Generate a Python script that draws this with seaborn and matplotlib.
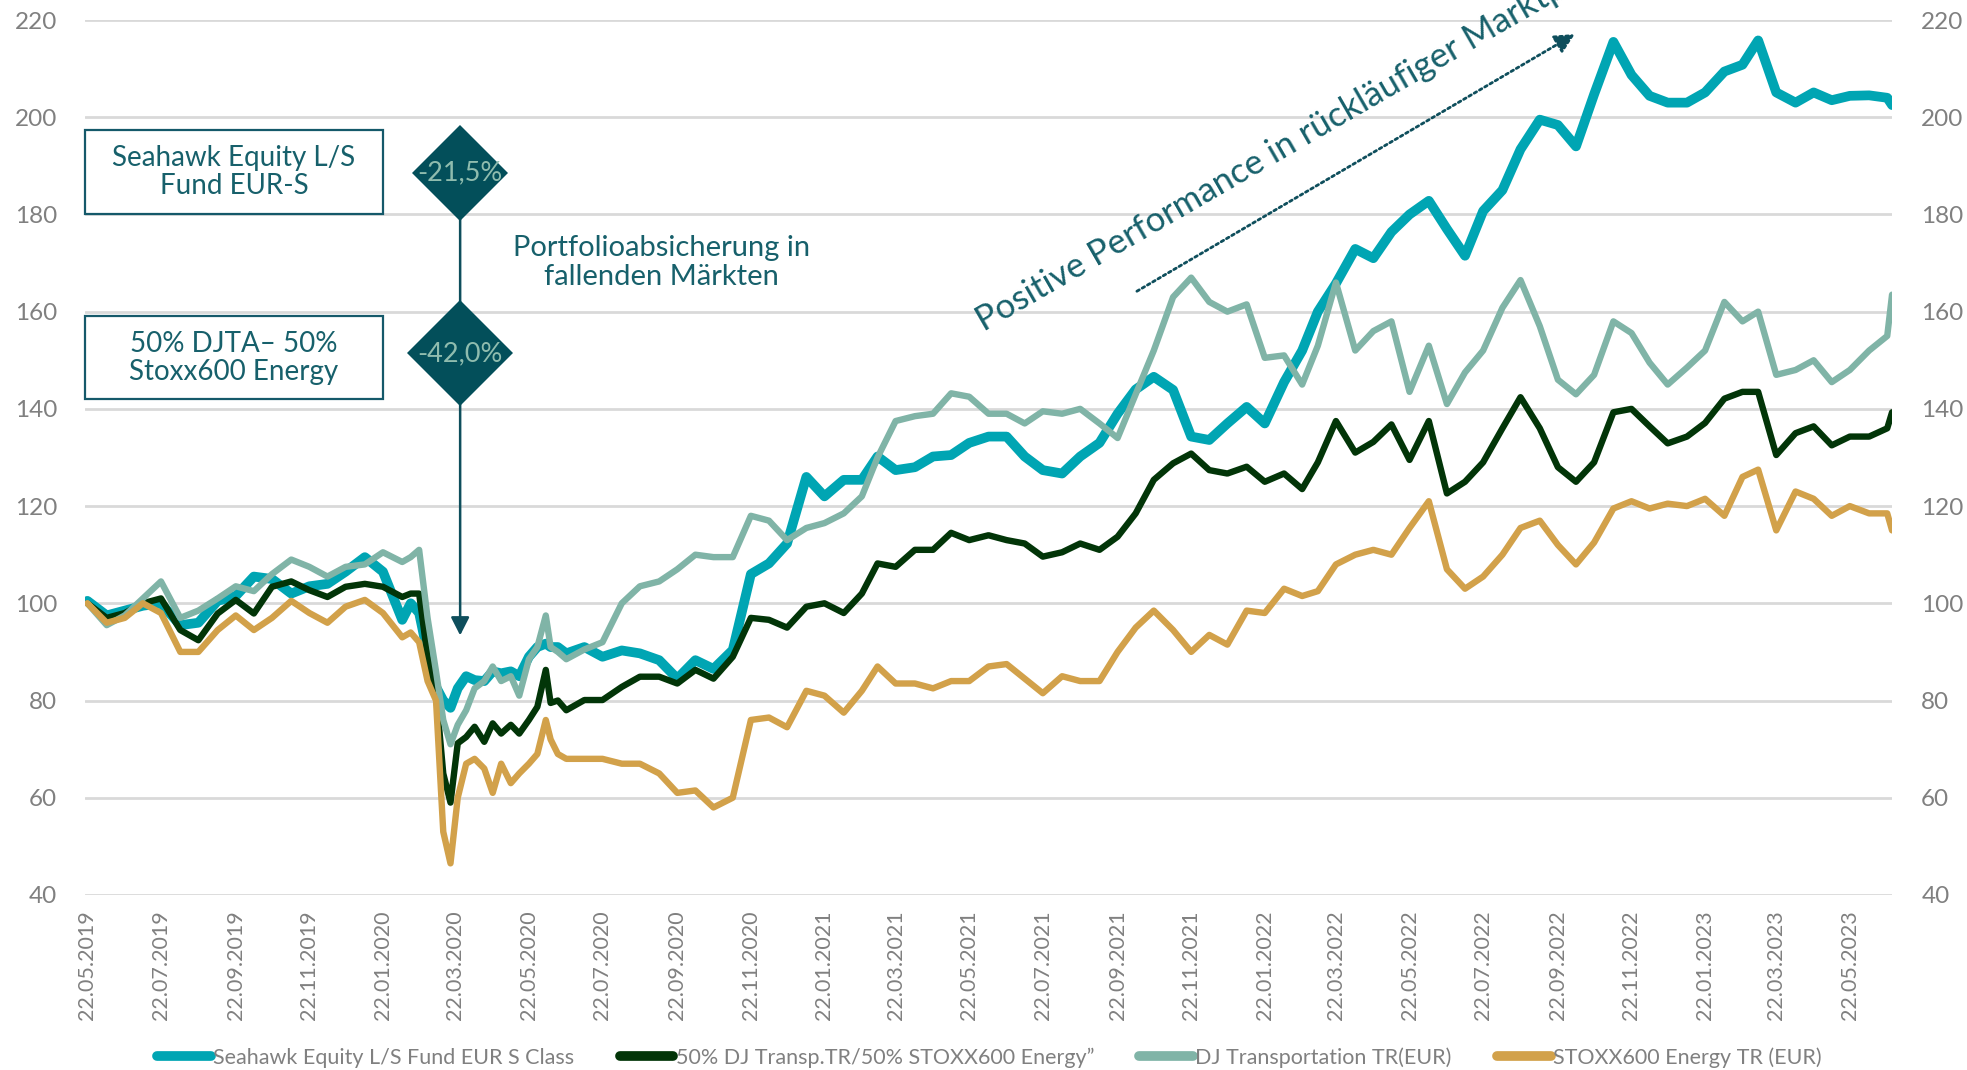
import matplotlib
matplotlib.use("Agg")
import matplotlib.pyplot as plt
import matplotlib.dates as mdates
from matplotlib.patches import Rectangle
from matplotlib.lines import Line2D
import pandas as pd
import seaborn as sns

# semi-monthly readings, weekly around the 2020 crash
dates = [
    "2019-05-22", "2019-06-07", "2019-06-22", "2019-07-07", "2019-07-22", "2019-08-07", "2019-08-22",
    "2019-09-07", "2019-09-22", "2019-10-07", "2019-10-22", "2019-11-07", "2019-11-22", "2019-12-07",
    "2019-12-22",
    "2020-01-07", "2020-01-22", "2020-02-07", "2020-02-14", "2020-02-21", "2020-02-28", "2020-03-06",
    "2020-03-12", "2020-03-18", "2020-03-24", "2020-03-31", "2020-04-07", "2020-04-15", "2020-04-22",
    "2020-04-29", "2020-05-07", "2020-05-14", "2020-05-22", "2020-05-29", "2020-06-05", "2020-06-09",
    "2020-06-15", "2020-06-22", "2020-07-07", "2020-07-22", "2020-08-07", "2020-08-22", "2020-09-07",
    "2020-09-22", "2020-10-07", "2020-10-22", "2020-11-07", "2020-11-22", "2020-12-07", "2020-12-22",
    "2021-01-07", "2021-01-22", "2021-02-07", "2021-02-22", "2021-03-07", "2021-03-22", "2021-04-07",
    "2021-04-22", "2021-05-07", "2021-05-22", "2021-06-07", "2021-06-22", "2021-07-07", "2021-07-22",
    "2021-08-07", "2021-08-22", "2021-09-07", "2021-09-22", "2021-10-07", "2021-10-22", "2021-11-07",
    "2021-11-22", "2021-12-07", "2021-12-22",
    "2022-01-07", "2022-01-22", "2022-02-07", "2022-02-22", "2022-03-07", "2022-03-22", "2022-04-07",
    "2022-04-22", "2022-05-07", "2022-05-22", "2022-06-07", "2022-06-22", "2022-07-07", "2022-07-22",
    "2022-08-07", "2022-08-22", "2022-09-07", "2022-09-22", "2022-10-07", "2022-10-22", "2022-11-07",
    "2022-11-22", "2022-12-07", "2022-12-22",
    "2023-01-07", "2023-01-22", "2023-02-07", "2023-02-22", "2023-03-07", "2023-03-22", "2023-04-07",
    "2023-04-22", "2023-05-07", "2023-05-22", "2023-06-07", "2023-06-22", "2023-06-26",
]

seahawk = [
    100.5, 97.5, 98.5, 99.5, 100, 95.5, 96, 100.5, 101.5, 105.5, 105, 102, 103.5, 104, 106.5,
    109.5, 106.5, 96.6, 100, 98, 89.7, 82.8, 80, 78.5, 82.5, 85, 84.2, 84, 86, 85.6, 86, 85, 89,
    91, 91.7, 91, 91, 89.7, 91, 89, 90.3, 89.7, 88.3, 84.5, 88.3, 86.5, 90.4, 106, 108.2, 112.3,
    126, 122, 125.4, 125.4, 130.2, 127.4, 128, 130.2, 130.5, 133, 134.3, 134.3, 130.2, 127.4,
    126.7, 130.2, 133, 139, 144, 146.6, 143.9, 134.3, 133.6, 137,
    140.4, 137, 145.5, 152, 160, 165.8, 172.9, 171, 176.4, 180, 182.8, 177, 171.5, 180.7, 185,
    193.4, 199.5, 198.4, 194, 204.7, 215.5, 208.7, 204.4, 203,
    203, 205.1, 209.4, 210.8, 215.8, 205.1, 203, 205.1, 203.5, 204.4, 204.5, 204, 202.5,
]

blend_50_50 = [
    100, 97, 98, 100, 101, 94.5, 92.4, 97.9, 100.7, 97.9, 103.4, 104.5, 102.7, 101.3, 103.4,
    104, 103.4, 101.3, 102, 102, 89, 81.5, 65, 59, 71.2, 72.5, 74.6, 71.5, 75.3, 73.2, 75, 73.2,
    76, 78.7, 86.3, 79.5, 80, 78, 80.1, 80.1, 82.8, 84.9, 84.9, 83.5, 86.3, 84.5, 89, 97, 96.6, 95,
    99.3, 100, 98, 102, 108.2, 107.5, 111, 111, 114.5, 113, 114, 113, 112.3, 109.6, 110.5, 112.3,
    111, 113.7, 118.5, 125.4, 128.8, 130.8, 127.4, 126.7,
    128.1, 125, 126.7, 123.5, 129, 137.5, 131, 133.2, 136.8, 129.5, 137.5, 122.6, 125, 129, 136,
    142.4, 136, 128, 125, 129, 139.3, 140, 136.4, 132.9,
    134.3, 137.1, 142.1, 143.5, 143.5, 130.5, 135, 136.4, 132.5, 134.3, 134.3, 136, 139.3,
]

dj_transport = [
    100, 95.5, 97.5, 101, 104.5, 97, 98.5, 101, 103.5, 102.5, 106, 109, 107.5, 105.5, 107.5,
    108, 110.5, 108.5, 109.5, 111, 97, 86, 76, 71, 75, 78, 82.5, 84, 87, 84, 85, 81, 88.5, 91,
    97.5, 91, 90, 88.5, 90.5, 92, 100, 103.5, 104.5, 107, 110, 109.5, 109.5, 118, 117, 113,
    115.5, 116.5, 118.5, 122, 130, 137.5, 138.5, 139, 143.2, 142.5, 139, 139, 137, 139.5, 139,
    140, 137, 134, 143, 152, 163, 167, 162, 160,
    161.5, 150.5, 151, 145, 153, 166, 152, 156, 158, 143.5, 153, 141, 147.5, 152, 160.8, 166.5,
    157, 146, 143, 147, 158, 155.6, 149.5, 145,
    148.5, 152, 162, 158, 160, 147, 148, 150, 145.5, 148, 152, 155, 163.5,
]

stoxx_energy = [
    100, 96, 97, 100, 98, 90, 90, 94.5, 97.5, 94.5, 97, 100.5, 98, 96, 99.3,
    100.7, 98, 93, 94, 92, 84, 80, 53, 46.5, 60, 67, 68, 66, 61, 67, 63, 65, 67, 69, 76, 72, 69,
    68, 68, 68, 67, 67, 65, 61, 61.5, 58, 60, 76, 76.5, 74.5,
    82, 81, 77.5, 82, 87, 83.5, 83.5, 82.5, 84, 84, 87, 87.5, 84.5, 81.5, 85, 84, 84, 90, 95,
    98.5, 94.5, 90, 93.5, 91.5,
    98.5, 98, 103, 101.5, 102.5, 108, 110, 111, 110, 115.5, 121, 107, 103, 105.5, 110, 115.5,
    117, 112, 108, 112.5, 119.5, 121, 119.5, 120.5,
    120, 121.5, 118, 126, 127.5, 115, 123, 121.5, 118, 120, 118.5, 118.5, 115,
]

series_names = [
    "Seahawk Equity L/S Fund EUR S Class",
    "50% DJ Transp.TR/50% STOXX600 Energy\u201d",
    "DJ Transportation TR(EUR)",
    "STOXX600 Energy TR (EUR)",
]
series_values = [seahawk, blend_50_50, dj_transport, stoxx_energy]
series_colors = ["#00A5B3", "#023508", "#80B4A7", "#D2A14A"]
line_widths = [7.0, 4.6, 4.6, 4.6]

y_ticks = [40, 60, 80, 100, 120, 140, 160, 180, 200, 220]
tick_dates = pd.date_range("2019-05-01", periods=25, freq="2MS") + pd.Timedelta(days=21)

TXT = "#17606B"
GREY = "#808080"


def create_fig(out_path="out.png"):
    df = pd.DataFrame({"date": pd.to_datetime(dates)})
    for name, vals in zip(series_names, series_values):
        df[name] = vals
    long = df.melt(id_vars="date", var_name="series", value_name="value")

    sns.set_theme(style="white")
    plt.rcParams["font.family"] = ["Lato", "DejaVu Sans"]

    fig = plt.figure(figsize=(19.67, 10.70), dpi=100)
    ax = fig.add_axes([0.0432, 0.1636, 0.9187, 0.8177])

    for name, color, lw in zip(series_names, series_colors, line_widths):
        sns.lineplot(
            data=long[long["series"] == name],
            x="date", y="value",
            color=color, linewidth=lw,
            solid_joinstyle="round",
            legend=False, ax=ax,
        )

    ax.set_xlim(pd.Timestamp("2019-05-20"), pd.Timestamp("2023-06-26"))
    ax.set_ylim(40, 220)
    ax.set_yticks(y_ticks)
    ax.set_xticks(tick_dates)
    ax.set_xticklabels([d.strftime("%d.%m.%Y") for d in tick_dates], rotation=90,
                       fontsize=15.5, color=GREY)
    ax.set_yticklabels([str(v) for v in y_ticks], fontsize=17.5, color=GREY)
    ax.tick_params(axis="x", length=0, pad=11)
    ax.tick_params(axis="y", length=0, pad=20)
    ax.yaxis.grid(True, color="#D9D9D9", linewidth=2.0)
    ax.xaxis.grid(False)
    ax.set_axisbelow(True)
    ax.set_xlabel("")
    ax.set_ylabel("")
    for s in ax.spines.values():
        s.set_visible(False)

    ax2 = ax.twinx()
    ax2.set_ylim(40, 220)
    ax2.set_yticks(y_ticks)
    ax2.set_yticklabels([str(v) for v in y_ticks], fontsize=17.5, color=GREY)
    ax2.tick_params(axis="y", length=0, pad=21)
    ax2.grid(False)
    for s in ax2.spines.values():
        s.set_visible(False)

    # annotation boxes
    x0 = mdates.date2num(pd.Timestamp("2019-05-20"))
    x1 = mdates.date2num(pd.Timestamp("2020-01-22"))
    for (lo, hi), label in [((180.0, 197.4), "Seahawk Equity L/S\nFund EUR-S"),
                            ((142.0, 159.1), "50% DJTA\u2013 50%\nStoxx600 Energy")]:
        ax.add_patch(Rectangle((x0, lo), x1 - x0, hi - lo, fill=False,
                               edgecolor="#15596A", linewidth=1.6, zorder=5, clip_on=False))
        ax.text((x0 + x1) / 2, (lo + hi) / 2, label, ha="center", va="center",
                fontsize=20, color=TXT, linespacing=1.1, zorder=6)

    # vertical arrow with diamonds
    xd = pd.Timestamp("2020-03-26")
    ax.annotate("", xy=(xd, 93.4), xytext=(xd, 188.5),
                arrowprops=dict(arrowstyle="-|>,head_length=0.55,head_width=0.28",
                                color="#0E4E5C", lw=1.8, mutation_scale=20,
                                shrinkA=0, shrinkB=0), zorder=6)
    for yv, ms, label in [(188.5, 49, "-21,5%"), (151.4, 53.5, "-42,0%")]:
        ax.plot([xd], [yv], marker="D", markersize=ms, color="#034F5A",
                markeredgewidth=0, zorder=7)
        ax.text(xd, yv, label, ha="center", va="center", fontsize=19.5,
                color="#8FBCAE", zorder=8)

    ax.text(pd.Timestamp("2020-09-09"), 170.2, "Portfolioabsicherung in\nfallenden M\u00e4rkten",
            ha="center", va="center", fontsize=21, color=TXT, linespacing=1.15)

    # dotted trend arrow + rotated caption (runs off the top edge, as in the source)
    ax.annotate("", xy=(pd.Timestamp("2022-10-06"), 217.1),
                xytext=(pd.Timestamp("2021-10-08"), 164.2),
                arrowprops=dict(arrowstyle="-|>,head_length=0.6,head_width=0.3",
                                color="#0E4E5C", lw=2.0, linestyle=(0, (1, 1.2)),
                                mutation_scale=20, shrinkA=0, shrinkB=0))
    ax.text(pd.Timestamp("2021-06-03"), 155.8, "Positive Performance in r\u00fcckl\u00e4ufiger Marktphase",
            rotation=30, rotation_mode="anchor", ha="left", va="baseline",
            fontsize=25, color=TXT, clip_on=False)

    handles = [Line2D([0], [0], color=c, lw=7, solid_capstyle="round") for c in series_colors]
    fig.legend(handles, series_names, loc="lower center", bbox_to_anchor=(0.503, -0.016),
               ncol=4, frameon=False, fontsize=15.5, handlelength=2.5, handletextpad=0.1,
               columnspacing=2.1, labelcolor=GREY)

    fig.savefig(out_path, dpi=100)


if __name__ == "__main__":
    create_fig("out.png")
